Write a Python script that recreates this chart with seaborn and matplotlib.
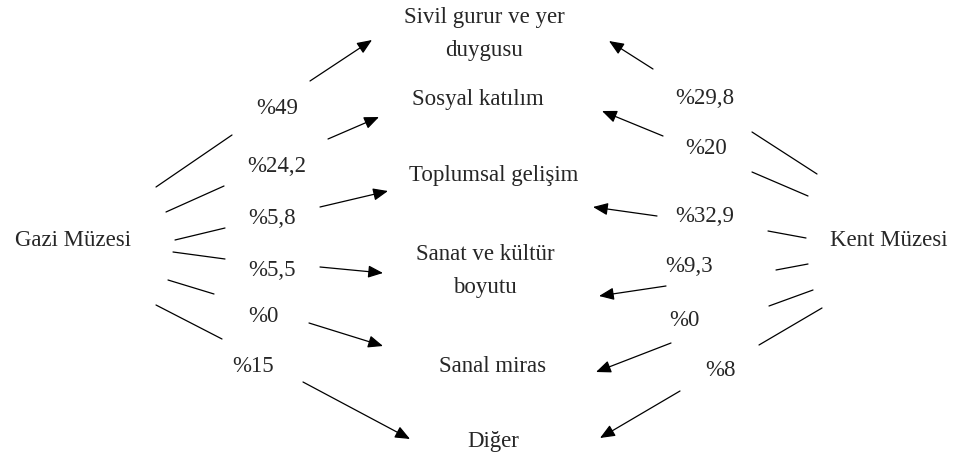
import numpy as np
import pandas as pd
import seaborn as sns
import matplotlib.pyplot as plt

# data
categories = ["Sivil gurur ve yer\nduygusu", "Sosyal katılım", "Toplumsal gelişim",
              "Sanat ve kültür\nboyutu", "Sanal miras", "Diğer"]
museums = ["Gazi Müzesi", "Kent Müzesi"]
gazi_pct = [49, 24.2, 5.8, 5.5, 0, 15]
kent_pct = [29.8, 20, 32.9, 9.3, 0, 8]

# layout (pixel coords, y from top)
cat_xy = [(484, 34), (478, 99), (494, 176), (485, 271), (493, 366), (493, 441)]
museum_xy = [(73, 241), (889, 241)]
gazi_lbl_xy = [(277, 108), (277, 167), (272, 219), (272, 270), (263, 316), (253, 367)]
kent_lbl_xy = [(705, 98), (706, 148), (705, 216), (689, 267), (684, 321), (721, 370)]
gazi_lines = [((156, 187), (232, 135)), ((166, 212), (224, 186)), ((175, 240), (225, 228)),
              ((173, 252), (225, 259)), ((168, 280), (214, 294)), ((156, 305), (222, 339))]
kent_lines = [((752, 132), (817, 174)), ((752, 172), (808, 196)), ((768, 231), (806, 238)),
              ((776, 270), (808, 264)), ((769, 306), (813, 290)), ((759, 345), (822, 308))]
gazi_arrows = [((310, 81), (372, 40)), ((328, 139), (379, 117)), ((320, 207), (388, 191)),
               ((320, 267), (383, 273)), ((309, 323), (383, 346)), ((303, 382), (410, 439))]
kent_arrows = [((653, 69), (609, 41)), ((663, 136), (602, 111)), ((657, 216), (593, 207)),
               ((666, 286), (599, 296)), ((671, 343), (596, 372)), ((680, 391), (600, 438))]

sns.set_theme(style="white")
plt.rcParams['font.family'] = ['Liberation Serif', 'DejaVu Serif']
fs = 16.5


def pct(v):
    return "%" + f"{v:g}".replace(".", ",")


rows = []
for i, (a, b) in enumerate(gazi_lines + kent_lines):
    rows.append({"seg": i, "x": a[0], "y": a[1]})
    rows.append({"seg": i, "x": b[0], "y": b[1]})
segs = pd.DataFrame(rows)

fig = plt.figure(figsize=(9.6, 4.58), dpi=100)
ax = fig.add_axes([0, 0, 1, 1])
sns.lineplot(data=segs, x="x", y="y", units="seg", estimator=None, sort=False,
             color="black", linewidth=0.9, ax=ax)

for (s, e) in gazi_arrows + kent_arrows:
    ax.annotate("", xy=e, xytext=s,
                arrowprops=dict(arrowstyle="-|>,head_length=0.6,head_width=0.25",
                                mutation_scale=15, color="black", lw=0.9,
                                shrinkA=0, shrinkB=0))

for name, (x, y) in zip(categories, cat_xy):
    ax.text(x, y, name, ha="center", va="center", fontsize=fs, linespacing=1.75)
for name, (x, y) in zip(museums, museum_xy):
    ax.text(x, y, name, ha="center", va="center", fontsize=fs)
for v, (x, y) in zip(gazi_pct, gazi_lbl_xy):
    ax.text(x, y, pct(v), ha="center", va="center", fontsize=fs)
for v, (x, y) in zip(kent_pct, kent_lbl_xy):
    ax.text(x, y, pct(v), ha="center", va="center", fontsize=fs)

ax.set_xlim(0, 960)
ax.set_ylim(458, 0)
ax.axis("off")
fig.savefig("out.png", dpi=100)
